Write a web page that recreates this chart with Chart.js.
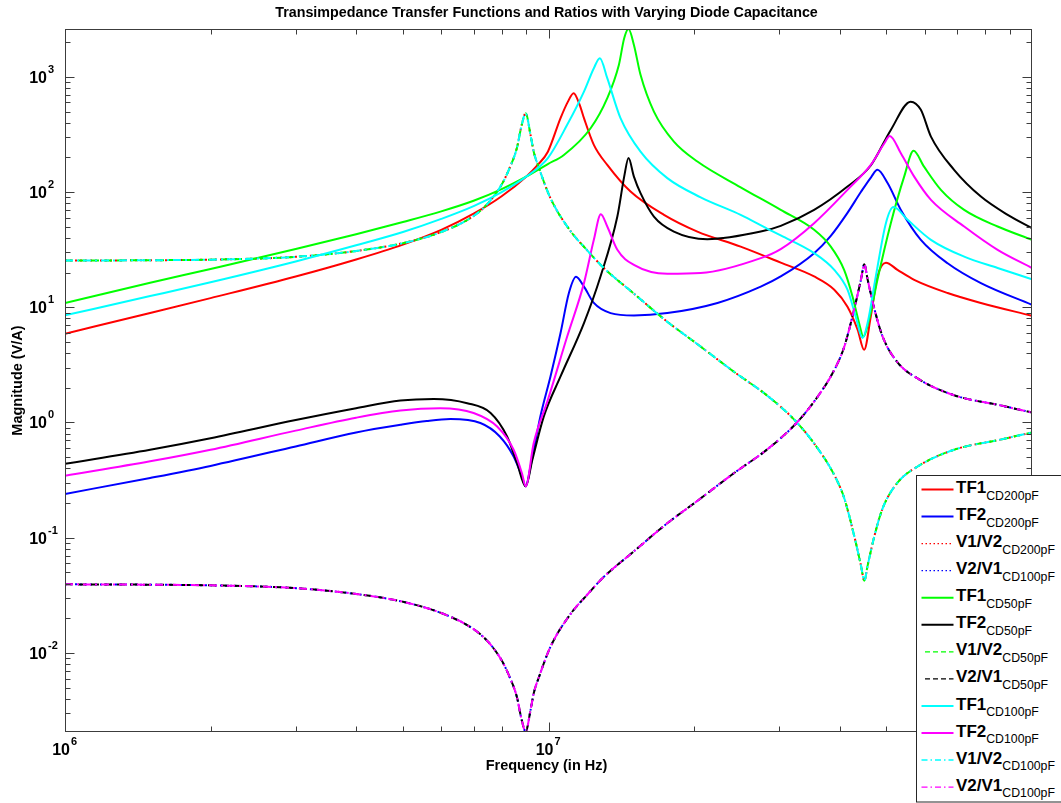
<!DOCTYPE html>
<html>
<head>
<meta charset="utf-8">
<title>Transimpedance Transfer Functions</title>
<script src="https://cdn.jsdelivr.net/npm/chart.js@4.4.1/dist/chart.umd.min.js"></script>
<style>
  body { margin: 0; background: #fff; overflow: hidden; }
  #wrap { position: relative; width: 1061px; height: 803px; }
  #legend { position: absolute; left: 916px; top: 475px; }
  #legend text { font-family: "Liberation Sans", Arial, sans-serif; fill: #000; }
</style>
</head>
<body>
<div id="wrap">
  <canvas id="chart" width="1061" height="803"></canvas>
  <svg id="legend" width="145" height="328"></svg>
</div>
<script>
"use strict";

// ---- data (frequency in Hz, magnitude in V/A) ----
const ratioFreq = [1e6, 1.5e6, 2e6, 3e6, 4e6, 5e6, 6e6, 7e6, 7.5e6, 8e6, 8.3e6, 8.6e6, 8.8e6, 8.97e6, 9.18e6, 9.32e6, 9.56e6, 1.01e7, 1.11e7, 1.2e7, 1.3e7, 1.5e7, 1.76e7, 2.03e7, 2.42e7, 2.84e7, 3.25e7, 3.6e7, 3.9e7, 4.09e7, 4.29e7, 4.43e7, 4.5e7, 4.57e7, 4.72e7, 4.91e7, 5.27e7, 5.8e7, 6.9e7, 8.6e7, 1e8];
const v1v2Vals = [25.4, 25.6, 25.9, 27.4, 30.8, 36, 45, 62, 80, 116, 160, 240, 380, 483, 313, 224, 161, 88, 46, 31.5, 22, 13.2, 7.5, 4.8, 2.75, 1.7, 1.02, 0.6, 0.35, 0.22, 0.103, 0.057, 0.0423, 0.057, 0.103, 0.18, 0.3, 0.415, 0.58, 0.71, 0.82];
const v2v1Vals = [0.0394, 0.0391, 0.0386, 0.0365, 0.0325, 0.0278, 0.0222, 0.0161, 0.0125, 0.00862, 0.00625, 0.00417, 0.00263, 0.00207, 0.00319, 0.00446, 0.00621, 0.01136, 0.0217, 0.0317, 0.0455, 0.0758, 0.1333, 0.2083, 0.364, 0.588, 0.98, 1.667, 2.857, 4.545, 9.71, 17.5, 23.6, 17.5, 9.71, 5.56, 3.33, 2.41, 1.724, 1.408, 1.22];

const tf1Cd200Freq = [1e6, 1.5e6, 2e6, 3e6, 4e6, 5e6, 6e6, 7e6, 8e6, 8.99e6, 9.5e6, 9.97e6, 1.059e7, 1.097e7, 1.127e7, 1.16e7, 1.184e7, 1.241e7, 1.323e7, 1.478e7, 1.733e7, 2.032e7, 2.497e7, 3.022e7, 3.543e7, 3.9e7, 4.153e7, 4.36e7, 4.496e7, 4.64e7, 4.79e7, 4.987e7, 5.27e7, 5.706e7, 6.69e7, 7.84e7, 1e8];
const tf1Cd200Vals = [5.9, 8.9, 12, 18.5, 26, 35, 47, 65, 92, 136, 172, 224, 438, 609, 721, 571, 438, 257, 172, 101, 63.4, 45.4, 33.6, 24.4, 18.5, 14.2, 10.1, 6.37, 4.27, 8.3, 18.5, 24.4, 21.1, 17.3, 13.3, 10.9, 8.43];

const tf2Cd200Freq = [1e6, 1.5e6, 2e6, 3e6, 4e6, 4.94e6, 5.6e6, 6.27e6, 7.23e6, 7.93e6, 8.47e6, 8.81e6, 8.97e6, 9.18e6, 9.62e6, 1.0095e7, 1.059e7, 1.102e7, 1.14e7, 1.184e7, 1.241e7, 1.344e7, 1.502e7, 1.761e7, 2.236e7, 2.748e7, 3.022e7, 3.543e7, 3.836e7, 4.153e7, 4.426e7, 4.65e7, 4.79e7, 5.03e7, 5.355e7, 5.89e7, 6.69e7, 7.84e7, 1e8];
const tf2Cd200Vals = [0.24, 0.33, 0.42, 0.62, 0.82, 0.955, 1.03, 1.07, 0.99, 0.756, 0.507, 0.34, 0.279, 0.415, 1.13, 2.51, 5.97, 13.3, 18.4, 15.1, 10.9, 8.9, 8.48, 8.9, 10.9, 15.1, 18.5, 29.5, 41.7, 66, 100, 135, 156, 119, 70, 38.5, 24.1, 16.2, 10.5];

const tf1Cd50Freq = [1e6, 1.5e6, 2e6, 3e6, 4e6, 5e6, 6e6, 7e6, 8e6, 8.99e6, 9.97e6, 1.076e7, 1.222e7, 1.323e7, 1.398e7, 1.434e7, 1.464e7, 1.502e7, 1.55e7, 1.652e7, 1.817e7, 2.032e7, 2.497e7, 3.022e7, 3.543e7, 3.836e7, 4.087e7, 4.254e7, 4.39e7, 4.48e7, 4.62e7, 4.79e7, 5.105e7, 5.44e7, 5.689e7, 5.98e7, 6.48e7, 7.24e7, 8.49e7, 1e8];
const tf1Cd50Vals = [10.9, 16.3, 21.5, 32, 43, 55, 68, 84, 106, 136, 175, 210, 358, 653, 1268, 2163, 2600, 1892, 1040, 499, 274, 184, 110, 70, 47, 33.6, 21.1, 12.4, 7.28, 5.57, 8.3, 17.3, 53.7, 136, 228, 166, 104.5, 70, 50.2, 38.5];

const tf2Cd50Freq = [1e6, 1.5e6, 2e6, 3e6, 4e6, 4.94e6, 5.79e6, 6.79e6, 7.59e6, 8.21e6, 8.61e6, 8.97e6, 9.26e6, 9.78e6, 1.059e7, 1.184e7, 1.281e7, 1.388e7, 1.434e7, 1.464e7, 1.502e7, 1.55e7, 1.652e7, 1.817e7, 2.13e7, 2.748e7, 3.022e7, 3.543e7, 4.153e7, 4.64e7, 5.105e7, 5.61e7, 5.89e7, 6.18e7, 6.9e7, 7.84e7, 8.907e7, 1e8];
const tf2Cd50Vals = [0.438, 0.58, 0.73, 1.05, 1.33, 1.55, 1.6, 1.47, 1.21, 0.756, 0.444, 0.279, 0.475, 1.13, 2.51, 7.3, 18.5, 61.3, 136, 197, 136, 97.8, 61.3, 45.4, 39, 45.4, 50.9, 70, 111.6, 170, 346, 609, 517, 303, 156, 91.4, 63.4, 48.6];

const tf1Cd100Freq = [1e6, 1.5e6, 2e6, 3e6, 4e6, 5e6, 6e6, 7e6, 8e6, 8.99e6, 9.97e6, 1.093e7, 1.184e7, 1.241e7, 1.277e7, 1.323e7, 1.409e7, 1.55e7, 1.761e7, 2.064e7, 2.497e7, 2.836e7, 3.022e7, 3.543e7, 3.9e7, 4.153e7, 4.32e7, 4.46e7, 4.57e7, 4.753e7, 4.987e7, 5.17e7, 5.53e7, 6.18e7, 7.24e7, 8.49e7, 1e8];
const tf1Cd100Vals = [8.5, 12.5, 16.5, 25, 34.5, 45, 58.5, 75.5, 100, 136, 197, 383, 744, 1188, 1452, 973, 438, 224, 132, 90, 63.4, 48, 42, 29.5, 21.1, 14.2, 8.3, 5.4, 7.3, 18.5, 53.7, 74, 57.4, 38.5, 27.5, 21.9, 17.5];

const tf2Cd100Freq = [1e6, 1.5e6, 2e6, 3e6, 4e6, 4.94e6, 5.97e6, 7e6, 7.83e6, 8.47e6, 8.81e6, 8.97e6, 9.32e6, 9.97e6, 1.093e7, 1.184e7, 1.241e7, 1.283e7, 1.323e7, 1.388e7, 1.502e7, 1.761e7, 2.064e7, 2.748e7, 3.022e7, 3.543e7, 4.153e7, 4.64e7, 4.95e7, 5.08e7, 5.355e7, 5.706e7, 6.18e7, 7.24e7, 8.49e7, 1e8];
const tf2Cd100Vals = [0.345, 0.46, 0.58, 0.85, 1.1, 1.27, 1.33, 1.21, 0.923, 0.58, 0.364, 0.279, 0.663, 1.57, 5.57, 16.2, 38.5, 64.3, 50.2, 31.5, 23.3, 19.5, 19.8, 26.7, 32, 53.7, 104.5, 172, 265, 307, 217, 136, 85.5, 50.2, 31.5, 21.9];

// ---- axes ----
const xMin = 1e6, xMax = 1e8;
const yMin = 0.00206, yMax = 2600;
const xTickValues = [1e6, 1e7, 1e8];
const xTickExps = ["6", "7", "8"];
const yTickValues = [1e-2, 1e-1, 1, 10, 100, 1000];
const yTickExps = ["-2", "-1", "0", "1", "2", "3"];

const chartTitle = "Transimpedance Transfer Functions and Ratios with Varying Diode Capacitance";
const xTitle = "Frequency (in Hz)";
const yTitle = "Magnitude (V/A)";

const DOTTED = [2, 3];
const DASHED = [8, 5];
const DASHDOT = [8, 4, 2, 4];

const series = [
    { name: "TF1", sub: "CD200pF", freq: tf1Cd200Freq, vals: tf1Cd200Vals, color: "#ff0000", dash: [] },
    { name: "TF2", sub: "CD200pF", freq: tf2Cd200Freq, vals: tf2Cd200Vals, color: "#0000ff", dash: [] },
    { name: "V1/V2", sub: "CD200pF", freq: ratioFreq, vals: v1v2Vals, color: "#ff0000", dash: DOTTED },
    { name: "V2/V1", sub: "CD100pF", freq: ratioFreq, vals: v2v1Vals, color: "#0000ff", dash: DOTTED },
    { name: "TF1", sub: "CD50pF", freq: tf1Cd50Freq, vals: tf1Cd50Vals, color: "#00ff00", dash: [] },
    { name: "TF2", sub: "CD50pF", freq: tf2Cd50Freq, vals: tf2Cd50Vals, color: "#000000", dash: [] },
    { name: "V1/V2", sub: "CD50pF", freq: ratioFreq, vals: v1v2Vals, color: "#00ff00", dash: DASHED },
    { name: "V2/V1", sub: "CD50pF", freq: ratioFreq, vals: v2v1Vals, color: "#000000", dash: DASHED },
    { name: "TF1", sub: "CD100pF", freq: tf1Cd100Freq, vals: tf1Cd100Vals, color: "#00ffff", dash: [] },
    { name: "TF2", sub: "CD100pF", freq: tf2Cd100Freq, vals: tf2Cd100Vals, color: "#ff00ff", dash: [] },
    { name: "V1/V2", sub: "CD100pF", freq: ratioFreq, vals: v1v2Vals, color: "#00ffff", dash: DASHDOT },
    { name: "V2/V1", sub: "CD100pF", freq: ratioFreq, vals: v2v1Vals, color: "#ff00ff", dash: DASHDOT },
];

const FONT = '"Liberation Sans", Arial, Helvetica, sans-serif';

// box, inward ticks on all four sides, tick labels and titles (MATLAB look)
const matlabAxes = {
    id: "matlabAxes",
    afterDraw(chart) {
        const { ctx, chartArea: a } = chart;
        const xs = chart.scales.x;
        const ys = chart.scales.y;
        ctx.save();
        ctx.strokeStyle = "#3c3c3c";
        ctx.lineWidth = 1;
        const L = Math.round(a.left) + 0.5, R = Math.round(a.right) - 0.5;
        const T = Math.round(a.top) + 0.5, B = Math.round(a.bottom) - 0.5;
        ctx.strokeRect(L, T, R - L, B - T);

        ctx.beginPath();
        for (let e = 6; e < 8; e++) {
            for (let m = 1; m < 10; m++) {
                const v = m * Math.pow(10, e);
                const len = m === 1 ? 9 : 5;
                const px = Math.round(xs.getPixelForValue(v)) + 0.5;
                ctx.moveTo(px, B); ctx.lineTo(px, B - len);
                ctx.moveTo(px, T); ctx.lineTo(px, T + len);
            }
        }
        for (let e = -3; e < 4; e++) {
            for (let m = 1; m < 10; m++) {
                const v = m * Math.pow(10, e);
                if (v < yMin || v > yMax) continue;
                const len = m === 1 ? 9 : 5;
                const py = Math.round(ys.getPixelForValue(v)) + 0.5;
                ctx.moveTo(L, py); ctx.lineTo(L + len, py);
                ctx.moveTo(R, py); ctx.lineTo(R - len, py);
            }
        }
        ctx.stroke();

        ctx.fillStyle = "#000";
        ctx.textBaseline = "alphabetic";
        // y tick labels
        yTickValues.forEach((v, i) => {
            const py = ys.getPixelForValue(v);
            ctx.font = "bold 16px " + FONT;
            ctx.textAlign = "right";
            ctx.fillText("10", a.left - 18, py + 6);
            ctx.font = "bold 11px " + FONT;
            ctx.textAlign = "left";
            ctx.fillText(yTickExps[i], a.left - 17, py - 4);
        });
        // x tick labels
        xTickValues.forEach((v, i) => {
            const px = xs.getPixelForValue(v);
            ctx.font = "bold 16px " + FONT;
            ctx.textAlign = "right";
            ctx.fillText("10", px + 5, a.bottom + 23);
            ctx.font = "bold 11px " + FONT;
            ctx.textAlign = "left";
            ctx.fillText(xTickExps[i], px + 6, a.bottom + 13);
        });

        // titles
        ctx.textAlign = "center";
        ctx.font = "bold 14.3px " + FONT;
        ctx.fillText(chartTitle, 546.5, 17);
        ctx.font = "bold 14.5px " + FONT;
        ctx.fillText(xTitle, 546.5, a.bottom + 38);
        ctx.save();
        ctx.translate(22, (a.top + a.bottom) / 2);
        ctx.rotate(-Math.PI / 2);
        ctx.fillText(yTitle, 0, 0);
        ctx.restore();
        ctx.restore();
    },
};

const datasets = series.map((s, i) => ({
    label: s.name + " " + s.sub,
    data: s.freq.map((f, k) => ({ x: f, y: s.vals[k] })),
    borderColor: s.color,
    backgroundColor: s.color,
    borderWidth: 2,
    borderDash: s.dash,
    pointRadius: 0,
    fill: false,
    cubicInterpolationMode: "monotone",
    order: series.length - i,
}));

new Chart(document.getElementById("chart"), {
    type: "line",
    data: { datasets: datasets },
    options: {
        responsive: false,
        animation: false,
        events: [],
        layout: { padding: { left: 65, right: 29, top: 29, bottom: 71 } },
        plugins: { legend: { display: false }, tooltip: { enabled: false }, title: { display: false } },
        scales: {
            x: { type: "logarithmic", min: xMin, max: xMax, bounds: "data", display: false },
            y: { type: "logarithmic", min: yMin, max: yMax, bounds: "data", display: false },
        },
    },
    plugins: [matlabAxes],
});

// legend with subscripts, drawn as svg text
function buildLegend() {
    const svg = document.getElementById("legend");
    const dashAttr = { dotted: "1.5,2.5", dashed: "5,3", dashdot: "6,3,1.5,3" };
    let html = '<rect x="0.5" y="0.5" width="160" height="326.5" fill="#fff" stroke="#262626" stroke-width="1"/>';
    series.forEach((s, i) => {
        const y = 14.5 + 27.05 * i;
        let d = "";
        if (s.dash === DOTTED) d = dashAttr.dotted;
        if (s.dash === DASHED) d = dashAttr.dashed;
        if (s.dash === DASHDOT) d = dashAttr.dashdot;
        const w = s.dash.length ? 1.3 : 2;
        const x0 = s.dash === DASHED ? 9 : 5.5;
        html += `<line x1="${x0}" y1="${y}" x2="37.5" y2="${y}" stroke="${s.color}" stroke-width="${w}"${d ? ` stroke-dasharray="${d}"` : ""}/>`;
        html += `<text x="40" y="${y + 3.6}" font-size="17" font-weight="bold">${s.name}<tspan dy="6.5" font-size="12.3" font-weight="normal">${s.sub}</tspan></text>`;
    });
    svg.innerHTML = html;
}
buildLegend();
</script>
</body>
</html>
